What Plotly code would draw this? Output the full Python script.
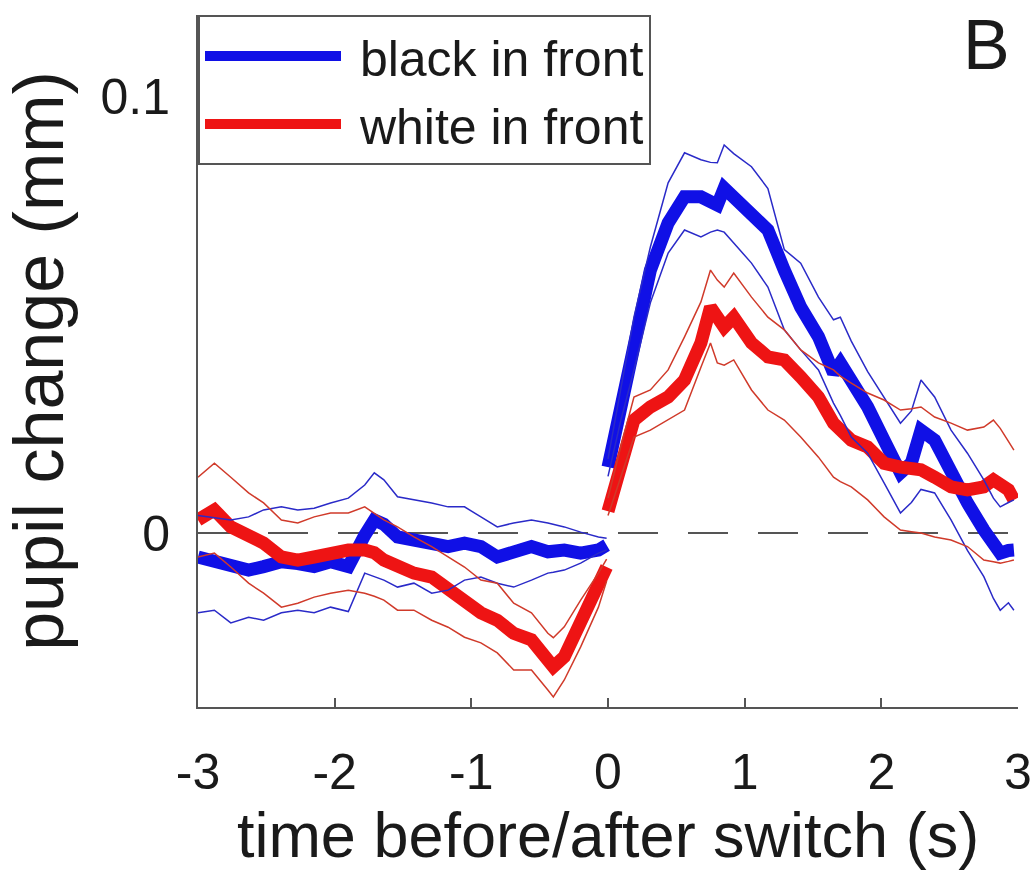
import plotly.graph_objects as go

# ---------------- data ----------------
t_before = [-3.0, -2.88, -2.76, -2.63, -2.52, -2.39, -2.27, -2.15, -2.03, -1.90, -1.78, -1.71, -1.64,
            -1.54, -1.42, -1.29, -1.17, -1.05, -0.93, -0.81, -0.69, -0.56, -0.44, -0.40, -0.32,
            -0.20, -0.07, -0.01]
t_after = [0.0, 0.095, 0.19, 0.31, 0.44, 0.56, 0.68, 0.75, 0.80, 0.85, 0.92, 1.05, 1.17, 1.29, 1.41,
           1.54, 1.65, 1.70, 1.78, 1.90, 2.02, 2.14, 2.22, 2.29, 2.39, 2.51, 2.63, 2.75, 2.82, 2.87,
           2.93, 2.97]

black_mean_before = [-0.0055, -0.0066, -0.0077, -0.0085, -0.0077, -0.0066, -0.0070, -0.0077, -0.0066,
                     -0.0077, -0.0005, 0.0030, 0.0020, -0.0009, -0.0016, -0.0023, -0.0031, -0.0023,
                     -0.0031, -0.0055, -0.0046, -0.0031, -0.0043, -0.0041, -0.0039, -0.0046, -0.0039,
                     -0.0028]
black_upper_before = [0.0040, 0.0035, 0.0030, 0.0037, 0.0053, 0.0060, 0.0053, 0.0057, 0.0069, 0.0080,
                      0.0110, 0.0138, 0.0122, 0.0083, 0.0076, 0.0069, 0.0060, 0.0060, 0.0037, 0.0014,
                      0.0023, 0.0030, 0.0023, 0.0020, 0.0014, 0.0002, -0.0009, -0.0012]
black_lower_before = [-0.0183, -0.0177, -0.0206, -0.0193, -0.0200, -0.0183, -0.0177, -0.0183, -0.0170,
                      -0.0180, -0.0092, -0.0100, -0.0108, -0.0124, -0.0115, -0.0138, -0.0131, -0.0108,
                      -0.0101, -0.0115, -0.0124, -0.0108, -0.0092, -0.0090, -0.0085, -0.0069, -0.0046,
                      -0.0039]
white_mean_before = [0.0030, 0.0053, 0.0014, -0.0009, -0.0023, -0.0055, -0.0062, -0.0055, -0.0046,
                     -0.0039, -0.0039, -0.0045, -0.0062, -0.0078, -0.0092, -0.0101, -0.0131, -0.0161,
                     -0.0183, -0.0200, -0.0230, -0.0245, -0.0291, -0.0307, -0.0284, -0.0206, -0.0124,
                     -0.0078]
white_upper_before = [0.0128, 0.0160, 0.0128, 0.0092, 0.0069, 0.0030, 0.0023, 0.0037, 0.0046, 0.0046,
                      0.0060, 0.0045, 0.0030, 0.0014, -0.0009, -0.0031, -0.0055, -0.0078, -0.0108,
                      -0.0115, -0.0161, -0.0183, -0.0230, -0.0240, -0.0215, -0.0154, -0.0092, -0.0060]
white_lower_before = [-0.0055, -0.0046, -0.0078, -0.0115, -0.0138, -0.0170, -0.0161, -0.0147, -0.0138,
                      -0.0131, -0.0138, -0.0145, -0.0154, -0.0177, -0.0177, -0.0200, -0.0216, -0.0239,
                      -0.0252, -0.0275, -0.0314, -0.0314, -0.0360, -0.0376, -0.0337, -0.0261, -0.0170,
                      -0.0110]

black_mean_after = [0.0151, 0.0298, 0.0436, 0.0603, 0.0711, 0.0771, 0.0771, 0.0760, 0.0752, 0.0791,
                    0.0771, 0.0734, 0.0695, 0.0603, 0.0518, 0.0450, 0.0367, 0.0390, 0.0350, 0.0289,
                    0.0213, 0.0138, 0.0161, 0.0236, 0.0213, 0.0138, 0.0069, 0.0007, -0.0030, -0.0046,
                    -0.0040, -0.0039]
black_upper_after = [0.0170, 0.0330, 0.0495, 0.0656, 0.0803, 0.0872, 0.0856, 0.0850, 0.0849, 0.0890,
                     0.0870, 0.0840, 0.0790, 0.0650, 0.0619, 0.0541, 0.0489, 0.0495, 0.0440, 0.0370,
                     0.0310, 0.0252, 0.0280, 0.0351, 0.0312, 0.0236, 0.0183, 0.0122, 0.0080, 0.0060,
                     0.0070, 0.0076]
black_lower_after = [0.0130, 0.0260, 0.0374, 0.0528, 0.0642, 0.0695, 0.0679, 0.0690, 0.0695, 0.0690,
                     0.0665, 0.0619, 0.0564, 0.0466, 0.0420, 0.0374, 0.0298, 0.0270, 0.0220, 0.0183,
                     0.0115, 0.0046, 0.0070, 0.0100, 0.0092, 0.0030, -0.0040, -0.0100, -0.0150,
                     -0.0177, -0.0160, -0.0177]
white_mean_after = [0.0050, 0.0160, 0.0259, 0.0289, 0.0312, 0.0351, 0.0436, 0.0518, 0.0490, 0.0472,
                    0.0495, 0.0436, 0.0404, 0.0397, 0.0358, 0.0312, 0.0252, 0.0235, 0.0213, 0.0197,
                    0.0160, 0.0151, 0.0148, 0.0145, 0.0128, 0.0106, 0.0099, 0.0106, 0.0122, 0.0110,
                    0.0099, 0.0076]
white_upper_after = [0.0080, 0.0200, 0.0312, 0.0328, 0.0374, 0.0450, 0.0530, 0.0603, 0.0580, 0.0564,
                     0.0596, 0.0541, 0.0495, 0.0466, 0.0420, 0.0390, 0.0374, 0.0360, 0.0344, 0.0321,
                     0.0305, 0.0282, 0.0285, 0.0289, 0.0266, 0.0252, 0.0236, 0.0243, 0.0259, 0.0240,
                     0.0210, 0.0190]
white_lower_after = [0.0040, 0.0130, 0.0220, 0.0236, 0.0259, 0.0282, 0.0380, 0.0436, 0.0390, 0.0385,
                     0.0397, 0.0328, 0.0282, 0.0259, 0.0220, 0.0174, 0.0128, 0.0118, 0.0106, 0.0076,
                     0.0037, 0.0007, 0.0003, 0.0000, -0.0009, -0.0016, -0.0031, -0.0062, -0.0066,
                     -0.0069, -0.0065, -0.0062]

x_ticks = [-3, -2, -1, 0, 1, 2, 3]
x_tick_labels = ["-3", "-2", "-1", "0", "1", "2", "3"]
y_ticks = [0, 0.1]
y_tick_labels = ["0", "0.1"]
series_names = ["black in front", "white in front"]

# ---------------- styling ----------------
FONT = "Liberation Sans, Arial, Helvetica, sans-serif"
BLUE = "#1010e6"
RED = "#ee1414"
BLUE_THIN = "#2a2ac8"
RED_THIN = "#d03a2a"
AXIS = "#555555"
TXT = "#1a1a1a"
GAP = "\u00a0"  # small gap between legend line sample and its text


def joined(before, after):
    return list(before) + [None] + list(after)


x_all = joined(t_before, t_after)

fig = go.Figure()

# thick mean lines
fig.add_trace(go.Scatter(x=x_all, y=joined(black_mean_before, black_mean_after), mode="lines",
                         name=GAP + series_names[0], line=dict(color=BLUE, width=13),
                         connectgaps=False))
fig.add_trace(go.Scatter(x=x_all, y=joined(white_mean_before, white_mean_after), mode="lines",
                         name=GAP + series_names[1], line=dict(color=RED, width=13),
                         connectgaps=False))

# thin error lines
for ys, col in [((black_upper_before, black_upper_after), BLUE_THIN),
                ((black_lower_before, black_lower_after), BLUE_THIN),
                ((white_upper_before, white_upper_after), RED_THIN),
                ((white_lower_before, white_lower_after), RED_THIN)]:
    fig.add_trace(go.Scatter(x=x_all, y=joined(*ys), mode="lines", showlegend=False,
                             line=dict(color=col, width=1.5), connectgaps=False,
                             hoverinfo="skip"))

# dashed zero reference line
fig.add_shape(type="line", xref="x", yref="y", x0=-3, x1=3, y0=0, y1=0, layer="below",
              line=dict(color="#555555", width=2, dash="40px,30px"))

fig.add_annotation(text="B", xref="paper", yref="paper", x=0.961, y=0.9566,
                   xanchor="center", yanchor="middle", showarrow=False,
                   font=dict(family=FONT, size=70, color=TXT))

fig.update_layout(
    width=1032, height=876,
    margin=dict(l=198, r=14, t=15, b=169, autoexpand=False),
    paper_bgcolor="white", plot_bgcolor="white",
    font=dict(family=FONT, color=TXT),
    showlegend=True,
    legend=dict(x=0, y=1, xanchor="left", yanchor="top", bgcolor="white",
                bordercolor=AXIS, borderwidth=2, font=dict(family=FONT, size=50, color=TXT),
                itemwidth=136, tracegroupgap=0),
)
fig.update_xaxes(range=[-3, 3], tickvals=x_ticks, ticktext=x_tick_labels, automargin=False,
                 showline=True, linecolor=AXIS, linewidth=2, mirror=False,
                 ticks="inside", ticklen=9, tickwidth=2, tickcolor=AXIS,
                 showgrid=False, zeroline=False, ticklabelstandoff=20,
                 tickfont=dict(family=FONT, size=50, color=TXT),
                 title=dict(text="time before/after switch (s)", standoff=9,
                            font=dict(family=FONT, size=63, color=TXT)))
fig.update_yaxes(range=[-0.0399, 0.1188], tickvals=y_ticks, ticktext=y_tick_labels, automargin=False,
                 showline=True, linecolor=AXIS, linewidth=2, mirror=False,
                 ticks="inside", ticklen=9, tickwidth=2, tickcolor=AXIS,
                 showgrid=False, zeroline=False, ticklabelstandoff=16,
                 tickfont=dict(family=FONT, size=50, color=TXT),
                 title=dict(text="pupil change (mm)", standoff=24,
                            font=dict(family=FONT, size=70, color=TXT)))

# remove the default 8px page margin so the 1032x876 figure fills the window exactly
fig.write_html("out.html", config={"displayModeBar": False},
               post_script="document.body.style.margin='0px';")
